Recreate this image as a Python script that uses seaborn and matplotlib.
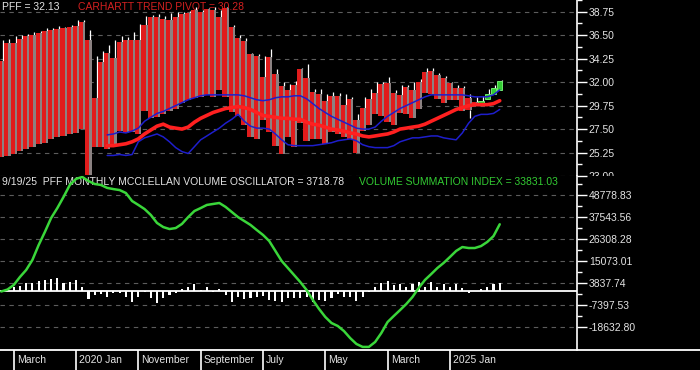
import numpy as np
import pandas as pd
import matplotlib
matplotlib.use("Agg")
import matplotlib.pyplot as plt
import seaborn as sns
from matplotlib.lines import Line2D
from matplotlib.transforms import Bbox, TransformedBbox

# month index, 0 = Jan 2020 (Jan 2019 .. Sep 2025)
months = list(range(-12, 69))

bar_top = [34.0, 35.75, 35.8, 36.1, 36.4, 36.5, 36.75, 36.9, 37.0, 37.05, 37.15, 37.3,
           37.4, 37.8, 36.05, 30.45, 33.95, 34.75, 34.35, 35.85, 36.05, 36.0,
           36.05, 37.45, 38.25, 38.25, 38.1, 38.0, 38.25, 38.55, 38.6, 38.9,
           38.7, 39.0, 38.9, 38.25, 39.1, 37.3, 36.2, 35.9, 34.65, 34.5,
           32.5, 34.4, 32.8, 31.6, 31.2, 31.7, 33.3, 32.4, 31.1, 30.9,
           30.2, 30.7, 30.65, 29.8, 30.4, 28.4, 29.5, 30.4, 31.0, 31.85,
           31.95, 31.0, 30.75, 31.5, 31.2, 32.0, 33.0, 33.1, 32.7, 32.4,
           31.9, 31.4, 31.4, 30.45, 30.1, 30.2, 30.9, 31.4, 32.1]
bar_bottom = [24.8, 24.95, 25.1, 25.4, 25.6, 25.75, 26.05, 26.2, 26.5, 26.7, 26.85, 27.0,
              27.15, 27.5, 23.1, 25.75, 25.75, 25.6, 25.9, 27.3, 27.1, 27.2,
              27.0, 29.2, 28.6, 28.7, 28.9, 29.2, 29.4, 30.0, 30.3, 30.5,
              30.6, 30.8, 30.6, 31.2, 30.6, 29.1, 28.8, 27.9, 26.7, 26.5,
              28.4, 27.2, 25.9, 25.1, 26.7, 25.75, 28.1, 26.4, 26.5, 26.5,
              26.1, 27.2, 27.0, 26.7, 26.5, 25.2, 27.3, 27.9, 28.9, 28.8,
              28.2, 27.9, 29.0, 28.9, 28.6, 29.4, 31.0, 30.9, 30.4, 30.0,
              30.3, 30.3, 29.2, 29.3, 29.85, 30.0, 30.4, 30.9, 31.2]
bar_high = [36.0, 36.1, 36.4, 36.5, 36.6, 36.85, 36.9, 37.15, 37.2, 37.4, 37.3, 37.5,
            38.0, 38.0, 37.0, 34.5, 35.0, 35.6, 36.0, 36.45, 36.3, 36.85,
            37.6, 38.3, 38.45, 38.55, 38.3, 38.6, 38.7, 38.75, 38.8, 39.2,
            38.9, 39.1, 39.2, 38.9, 39.25, 37.5, 36.5, 36.2, 34.8, 34.7,
            34.55, 35.2, 33.3, 32.05, 31.85, 32.1, 33.4, 33.7, 31.3, 31.3,
            30.9, 31.1, 31.0, 30.9, 30.6, 28.9, 30.6, 31.3, 32.0, 32.0,
            32.45, 31.2, 31.7, 31.7, 32.0, 32.3, 33.4, 33.35, 32.9, 32.6,
            32.0, 31.7, 31.6, 30.9, 30.6, 30.7, 31.3, 31.7, 32.2]
low_wick_month = [63]
low_wick_value = [28.55]
up_months = [65, 66, 67, 68]

band_months = list(range(5, 69))
band_upper = [26.94, 27.03, 27.22, 27.13, 27.31, 27.59, 28.25, 28.63, 29.0, 29.19,
              29.47, 29.75, 30.03, 30.31, 30.5, 30.69, 30.78, 30.78, 30.78, 30.78,
              30.78, 30.78, 30.69, 30.5, 30.31, 30.22, 30.31, 30.5, 30.59, 30.59,
              30.69, 30.69, 30.41, 29.94, 29.47, 29.09, 28.72, 28.44, 28.16, 27.88,
              27.59, 27.5, 27.5, 27.69, 28.25, 28.72, 29.09, 29.47, 29.75, 30.03,
              30.31, 30.59, 30.78, 30.78, 30.78, 30.78, 30.78, 30.78, 30.69, 30.59,
              30.59, 30.59, 30.78, 31.25]
band_mid = [25.91, 25.91, 26.0, 26.09, 26.28, 26.56, 27.03, 27.41, 27.78, 27.97,
            27.69, 27.59, 27.5, 27.69, 28.16, 28.53, 28.81, 29.09, 29.28, 29.47,
            29.56, 29.66, 29.56, 29.38, 29.09, 28.81, 28.72, 28.63, 28.53, 28.53,
            28.44, 28.44, 28.16, 27.97, 27.88, 27.69, 27.5, 27.41, 27.31, 27.13,
            27.03, 26.84, 26.75, 26.84, 26.94, 27.03, 27.22, 27.5, 27.59, 27.69,
            27.78, 27.97, 28.25, 28.53, 28.81, 29.09, 29.38, 29.56, 29.75, 29.84,
            29.84, 29.84, 29.94, 30.22]
band_lower = [24.97, 24.97, 25.06, 24.97, 25.06, 26.28, 26.66, 26.84, 27.03, 26.75,
              26.28, 25.72, 25.34, 25.16, 25.81, 26.47, 26.84, 27.22, 27.59, 28.06,
              28.44, 28.91, 28.25, 27.78, 27.59, 27.59, 27.5, 27.03, 26.47, 26.0,
              25.91, 25.91, 25.91, 25.91, 26.0, 26.09, 26.19, 26.38, 26.47, 26.56,
              26.38, 26.0, 25.81, 25.72, 25.72, 25.72, 25.91, 26.28, 26.47, 26.66,
              26.66, 26.75, 26.84, 26.84, 26.66, 26.56, 26.47, 27.13, 28.06, 28.72,
              28.91, 28.91, 29.0, 29.38]

osc = [0, 500, 1800, 2300, 3800, 3800, 4900, 5400, 5900, 6400, 3800, 4300,
       5400, 1800, -4300, -2300, -1800, -3300, -1300, -1300, -3300, -5900,
       -3300, -800, -3800, -6400, -3800, -2300, -1300, 800, 1800, 3300,
       300, 1800, -800, 800, -2300, -5900, -3300, -4300, -3600, -3100,
       -2600, -4600, -5100, -6100, -3600, -3600, -3600, -3100, -6100, -4600,
       -5600, -3600, -2000, -3100, -3100, -5600, -3100, -1000, 2000, 3600,
       5100, 2600, 3100, 2000, 3100, 4100, 2000, 4100, 2000, 3100,
       2000, 3100, 1500, -1500, -500, 1000, 2000, 3100, 3718.78]
vsi = [-500, 500, 2800, 6900, 10500, 15600, 23200, 29900, 37000, 42100, 47800, 53900,
       57000, 58000, 55900, 54400, 53900, 52400, 51800, 51300, 49800, 45700,
       43700, 41600, 38600, 34500, 32400, 31400, 31900, 34000, 37500, 40600,
       42100, 43700, 44200, 44700, 42700, 40100, 37500, 35500, 33500, 30900,
       28400, 25300, 20200, 15100, 11500, 7900, 4300, 300, -4800, -9400,
       -13500, -16600, -18100, -20700, -24300, -27300, -28800, -28800, -26300, -21700,
       -16100, -13000, -10000, -6900, -3300, 1300, 5400, 8400, 11500, 14100,
       17100, 20200, 22200, 21700, 21700, 22700, 24800, 27800, 33831.03]

price_ticks = [23.0, 25.25, 27.5, 29.75, 32.0, 34.25, 36.5, 38.75]
vol_ticks = [-18632.80, -7397.53, 3837.74, 15073.01, 26308.28, 37543.56, 48778.83]
label_months = [-10, 0, 10, 20, 30, 40, 50, 60]
label_text = ["March", "2020 Jan", "November", "September", "July", "May", "March", "2025 Jan"]

sns.set_theme(style="dark", rc={"axes.facecolor": "black", "figure.facecolor": "black"})
plt.rcParams["font.family"] = ["Liberation Sans", "DejaVu Sans"]

W, H = 700, 370
fig = plt.figure(figsize=(7, 3.7), dpi=100)
ax1 = fig.add_axes([0, 1 - 176 / H, 577 / W, 176 / H])
ax2 = fig.add_axes([0, 20 / H, 577 / W, 156 / H])
ax2.set_position([0, 20 / H, 577 / W, 156 / H + 18 / H])
ax2.set_position([0, 20 / H, 577 / W, (350 - 176) / H])

txt_col = "#e4e4e4"
grid_col = "#5c5c5c"

df = pd.DataFrame({"month": months, "top": bar_top, "bottom": bar_bottom, "high": bar_high})
df["up"] = df["month"].isin(up_months)
dn = df[~df["up"]]
up = df[df["up"]]

# top panel
ax1.text(0.004, 0.962, "PFF = 32.13", color=txt_col, fontsize=7.5, va="center",
         transform=ax1.transAxes, zorder=1)
ax1.text(78 / 577, 0.962, "CARHARTT TREND PIVOT = 30.28", color="#d42020", fontsize=7.5,
         va="center", transform=ax1.transAxes, zorder=1)
ax1.vlines(df["month"] + 0.3, df["top"], df["high"], color="white", lw=0.9, zorder=2)
ax1.vlines(np.array(low_wick_month) + 0.3, np.array(low_wick_value),
           df.set_index("month").loc[low_wick_month, "bottom"], color="white", lw=0.9, zorder=2)
ax1.bar(dn["month"], dn["top"] - dn["bottom"], bottom=dn["bottom"], width=1.0,
        color="#e11c1c", linewidth=0, zorder=3)
ax1.bar(dn["month"] + 0.33, dn["top"] - dn["bottom"], bottom=dn["bottom"], width=0.34,
        color="#8c8282", linewidth=0, zorder=3.1)
ax1.bar(up["month"], up["top"] - up["bottom"], bottom=up["bottom"], width=0.85,
        color="#33cc33", edgecolor="#7dff7d", linewidth=0.6, zorder=3)

sns.lineplot(x=band_months, y=band_upper, ax=ax1, color="#1e1ecc", lw=1.1, zorder=4)
sns.lineplot(x=band_months, y=band_lower, ax=ax1, color="#1e1ecc", lw=1.1, zorder=4)
sns.lineplot(x=band_months, y=band_mid, ax=ax1, color="#ff2020", lw=2.6, zorder=4)
ax1.set_ylim(23.0, 39.5)

# bottom panel
ax2.text(2 / 577, 0.968, "9/19/25  PFF MONTHLY MCCLELLAN VOLUME OSCILLATOR = 3718.78",
         color=txt_col, fontsize=7.5, va="center", transform=ax2.transAxes, zorder=1)
ax2.text(359 / 577, 0.968, "VOLUME SUMMATION INDEX = 33831.03", color="#33cc33",
         fontsize=7.5, va="center", transform=ax2.transAxes, zorder=1)
ax2.axhline(0, color="white", lw=1.3, zorder=2)
ax2.bar(months, osc, width=0.34, color="white", linewidth=0, zorder=3)
sns.lineplot(x=months, y=vsi, ax=ax2, color="#3ad63a", lw=1.8, zorder=4)
ax2.set_ylim(-30378.5, 58481.6)

for ax, ticks in ((ax1, price_ticks), (ax2, vol_ticks)):
    ax.set_xlim(-12.2, 80.4)
    ax.set_xlabel("")
    ax.set_ylabel("")
    step = ticks[1] - ticks[0]
    ax.set_yticks(ticks)
    ax.set_yticks([t + step / 2 for t in ticks[:-1]] + [ticks[-1] + step / 2], minor=True)
    ax.set_yticklabels(["%.2f" % t for t in ticks])
    ax.yaxis.tick_right()
    ax.tick_params(axis="y", which="major", length=7.5, width=1, color="white",
                   labelcolor=txt_col, labelsize=7.5, pad=1, direction="out")
    ax.tick_params(axis="y", which="minor", length=3.8, width=1, color="white", direction="out")
    ax.yaxis.grid(True, which="major", color=grid_col, ls=(0, (4, 4)), lw=0.8)
    ax.xaxis.grid(False)
    for s in ("left", "top", "bottom"):
        ax.spines[s].set_visible(False)
    ax.spines["right"].set_visible(True)
    ax.spines["right"].set_color("white")
    ax.spines["right"].set_linewidth(1.2)
    ax.set_axisbelow(True)

ax1.set_xticks([])
clip = TransformedBbox(Bbox([[0, 1 - 176 / H], [1, 1]]), fig.transFigure)
for lbl in ax1.get_yticklabels():
    lbl.set_clip_on(True)
    lbl.set_clip_box(clip)

ax2.set_xticks(label_months)
ax2.set_xticklabels([""] * len(label_months))
ax2.tick_params(axis="x", which="major", length=14.5, width=1.2, color="white",
                direction="out", bottom=True)
for m, t in zip(label_months, label_text):
    ax2.text(m + 0.5, -10 / 174, t, color=txt_col, fontsize=7.5, ha="left", va="center",
             transform=ax2.get_xaxis_transform(), clip_on=False)

fig.add_artist(Line2D([0, 1], [20 / H, 20 / H], color="white", lw=1.3,
                      transform=fig.transFigure))

fig.savefig("out.png", dpi=100, facecolor="black")
